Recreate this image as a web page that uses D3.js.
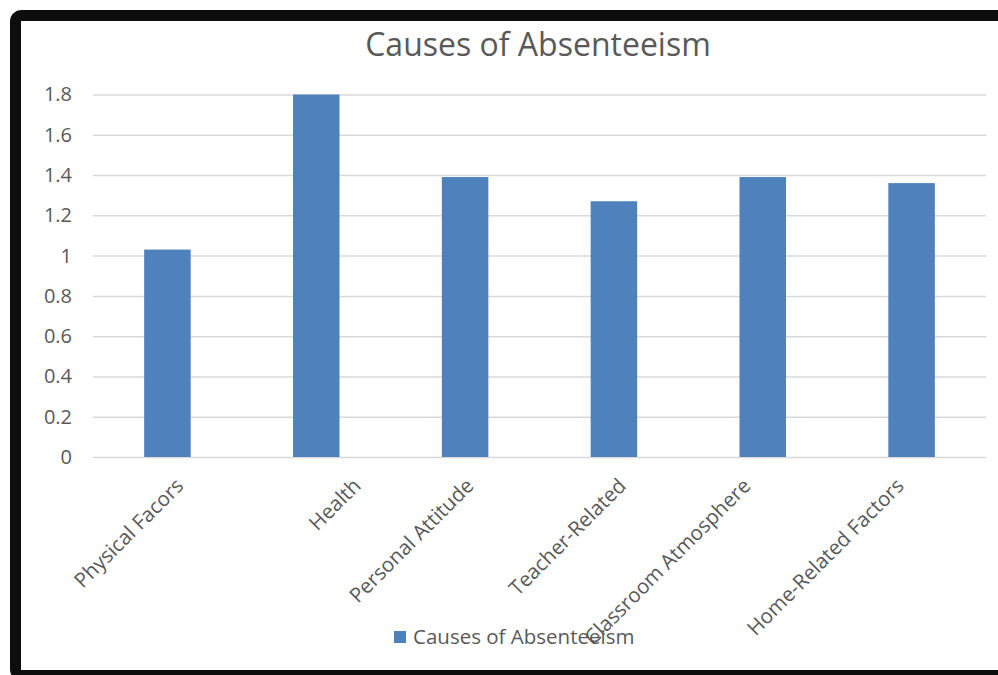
<!DOCTYPE html>
<html>
<head>
<meta charset="utf-8">
<style>
    body { margin: 0; background: #fff; }
    svg { display: block; font-family: "Open Sans", sans-serif; }
</style>
</head>
<body>
<svg id="chart" width="998" height="675"></svg>

<script src="https://cdn.jsdelivr.net/npm/d3@7/dist/d3.min.js"></script>
<script>
    var categories = ["Physical Facors", "Health", "Personal Attitude", "Teacher-Related", "Classroom Atmosphere", "Home-Related Factors"]
    var values = [1.03, 1.80, 1.39, 1.27, 1.39, 1.36]
    var yTicks = [0, 0.2, 0.4, 0.6, 0.8, 1, 1.2, 1.4, 1.6, 1.8]
    var seriesName = "Causes of Absenteeism"
    var title = "Causes of Absenteeism"

    var svg = d3.select("#chart")
    var textColor = "#595959"
    var barColor = "#4f81bd"

    // black frame round the chart area
    svg.append("rect")
        .attr("x", 15.5).attr("y", 15.5)
        .attr("width", 1000).attr("height", 660)
        .attr("rx", 6)
        .attr("fill", "#fff")
        .attr("stroke", "#0d0d0d")
        .attr("stroke-width", 11)

    var plotLeft = 93, plotRight = 986, plotTop = 94.5, plotBottom = 457

    var x = d3.scaleBand()
        .domain(categories)
        .range([plotLeft, plotRight])
        .paddingInner(0.6875)
        .paddingOuter(0.34375)

    var y = d3.scaleLinear()
        .domain([0, 1.8])
        .range([plotBottom, plotTop])

    svg.append("text")
        .attr("x", 538).attr("y", 56)
        .attr("text-anchor", "middle")
        .attr("font-size", 32)
        .attr("fill", textColor)
        .text(title)

    // gridlines + y labels
    var yAxis = svg.append("g")
        .attr("transform", "translate(" + plotLeft + ",0)")
        .call(d3.axisLeft(y).tickValues(yTicks).tickSize(-(plotRight - plotLeft)).tickPadding(21).tickFormat(d3.format("~g")))
    yAxis.select(".domain").remove()
    yAxis.selectAll(".tick line").attr("stroke", "#d9d9d9").attr("stroke-width", 1.5)
    yAxis.selectAll(".tick text")
        .attr("fill", textColor)
        .attr("font-size", 20)
        .attr("font-family", "Open Sans, sans-serif")

    svg.append("g").selectAll("rect")
        .data(values)
        .enter().append("rect")
        .attr("x", function(d, i) { return x(categories[i]) })
        .attr("y", function(d) { return y(d) })
        .attr("width", x.bandwidth())
        .attr("height", function(d) { return plotBottom - y(d) })
        .attr("fill", barColor)

    // rotated category labels, shifted the way Excel shifts them
    var labels = svg.append("g").selectAll("text")
        .data(categories)
        .enter().append("text")
        .attr("font-size", 20.5)
        .attr("fill", textColor)
        .attr("text-anchor", "end")
        .attr("dy", "0.35em")
        .text(function(d) { return d })

    labels.attr("transform", function(d) {
        var w = this.getComputedTextLength()
        var cx = x(d) + x.bandwidth() / 2
        var shift = 63 - 0.352 * w
        return "translate(" + (cx + shift) + ",482) rotate(-45)"
    })

    // legend
    var legend = svg.append("g").attr("transform", "translate(394,631)")
    legend.append("rect").attr("width", 12).attr("height", 12).attr("fill", barColor)
    legend.append("text")
        .attr("x", 19).attr("y", 6).attr("dy", "0.35em")
        .attr("font-size", 20.5)
        .attr("fill", textColor)
        .text(seriesName)
</script>
</body>
</html>
